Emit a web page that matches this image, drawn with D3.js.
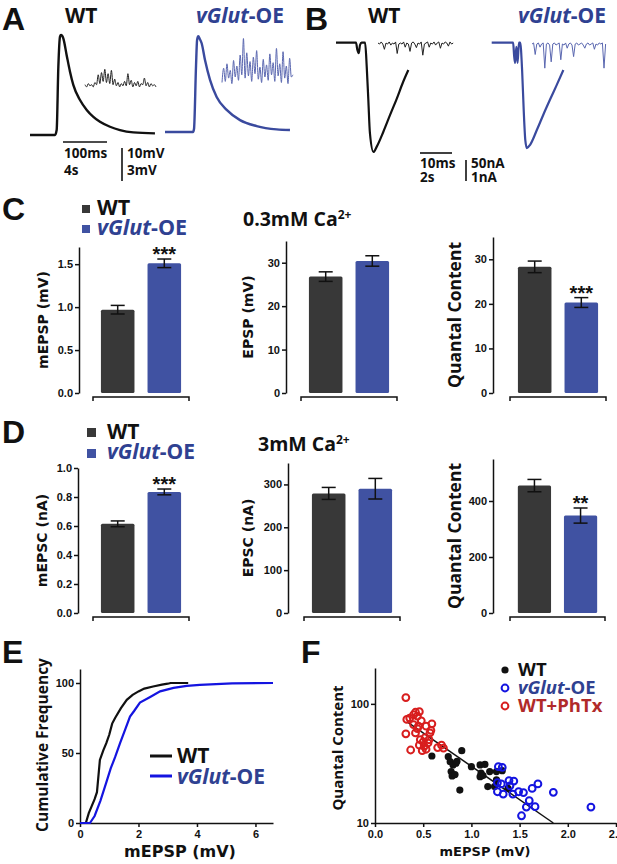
<!DOCTYPE html>
<html>
<head>
<meta charset="utf-8">
<script src="https://cdn.jsdelivr.net/npm/d3@7"></script>
<style>
  body { margin: 0; background: #fff; }
</style>
</head>
<body>
<script>
// groups and colours
const groups = ["WT", "vGlut-OE"];
const wtColor = "#383838", oeColor = "#4052a2", oeText = "#2f4191";

// panel A: evoked EPSP (ms, mV) and minis (one sample each 0.15 s, mV)
const wtEpsp = [[0,0],[56.8,0],[60.6,1.5],[64.4,20.6],[68.2,29.8],[70.5,30.3],[75.7,29.3],[83.3,24.2],[90.9,19.2],[98.4,15.2],[113.6,10.6],[128.9,7.6],[144,5.5],[159,4.0],[181.8,2.5],[204.5,1.5],[234.8,0.8],[284,0.5]];
const oeEpsp = [[0,0],[63.6,0],[66,1],[70.5,20],[73,28],[75.7,29],[79,28.2],[83.3,26.9],[90.9,21.8],[102.3,15.8],[117.4,10.6],[140.2,6.7],[170.5,3.6],[208.3,1.8],[253.8,0.8],[284,0.6]];
const wtMiniA = [0.3,0.1,0.4,0.2,0.3,0.1,0.5,0.3,1.2,0.4,1.4,0.6,1.7,0.5,1.3,0.4,1.6,0.3,0.8,0.2,0.5,0.1,0.4,0.2,0.6,0.2,1.3,0.3,0.7,0.1,0.5,0.2,0.6,0.1,0.4,0.3,0.9,0.2,0.5,0.1,0.4,0.2,0.3,0.1];
const oeMiniA = [0.5,1.8,0.6,2.2,0.9,1.6,0.4,2.5,1.0,2.0,0.7,3.0,1.2,4.5,0.9,3.2,1.1,2.4,0.6,2.8,1.3,3.4,0.8,1.9,0.5,2.6,1.0,2.1,0.7,3.1,1.2,2.3,0.6,3.6,1.1,2.2,0.5,3.3,0.9,2.0,0.4,2.7,1.0,1.2];

// panel B: evoked EPSC (ms, nA) and minis (one sample each 0.1 s, nA)
const wtEpsc = [[0,0],[6.25,0],[6.67,-17],[7.1,-25],[7.5,-5.5],[8.0,0],[9.1,0],[9.6,-57],[10.1,-136],[10.6,-215],[11.7,-260],[12.7,-248],[14.8,-212],[16.9,-172],[19,-133],[21,-93],[22.6,-65]];
const oeEpsc = [[0,0],[6.7,0],[7.0,-30],[7.3,-48],[7.7,-10],[8.1,-48],[8.5,0],[8.9,0],[9.5,-65],[10.0,-160],[10.5,-232],[11.0,-251],[12.0,-243],[14.1,-208],[16.1,-172],[18.2,-136],[20.3,-101],[22.4,-65]];
const wtMiniB = [0,-0.05,0.05,-0.05,-0.3,0,-0.05,0.05,-0.1,0,-0.05,0.05,-0.5,-0.05,0,-0.05,0.05,-0.2,0,-0.05,-0.4,0,0.05,-0.05,-0.22,0,-0.05,0.05,-0.58,-0.05,0,0.05,-0.2,0,-0.05,0.05,-0.1,0,0.05,-0.25,0,-0.05,0.05,0,-0.15,0.05,-0.05,0];
const oeMiniB = [0,0.05,-0.5,0,0.05,-0.15,0,0.05,-1.15,0,0.05,-0.05,-0.85,0,0.05,-0.05,0,0.05,-0.75,0,-0.05,0.05,-0.2,0,0.05,-0.05,-0.6,0,0.05,-0.05,0,0.05,-0.05,-0.2,0,0.05,-0.05,0,0.05,-0.25,0,-0.05,0.05,0,0.05,-1.15,0];

// panel C (0.3 mM Ca) and D (3 mM Ca): mean and SEM
const mepsp03Mean = [0.97, 1.51], mepsp03Sem = [0.05, 0.05];
const epsp03Mean = [26.8, 30.4], epsp03Sem = [1.1, 1.2];
const qc03Mean = [28.3, 20.3], qc03Sem = [1.3, 1.1];
const mepsc3Mean = [0.615, 0.835], mepsc3Sem = [0.02, 0.02];
const epsc3Mean = [279, 290], epsc3Sem = [14, 24];
const qc3Mean = [455, 348], qc3Sem = [22, 27];

// panel E: cumulative frequency of mEPSP
const wtCumX = [0,0.2,0.3,0.4,0.5,0.58,0.68,0.8,0.9,1.0,1.1,1.2,1.4,1.6,1.8,2.0,2.2,2.5,2.8,3.0,3.1,3.7];
const wtCumY = [0,0,7,12,17,22,45,52,57,63,71,75,82,88,91.5,94,96,97.5,98.8,99.5,100,100];
const oeCumX = [0,0.34,0.5,0.7,0.9,1.05,1.2,1.37,1.55,1.71,1.85,2.05,2.4,2.74,3.2,3.65,4.1,5.2,6.6];
const oeCumY = [0,0,5,16,29,39,47,57,67,76,80,86,90,94,96.5,98,98.6,99.8,100];

// panel F: mEPSP (mV) vs quantal content
const wtScatter = [[0.59,36.5],[0.76,36],[0.78,32.7],[0.81,30.7],[0.84,31.8],[0.79,27],[0.80,24.8],[0.85,33],[0.88,18.9],[0.90,40.5],[1.00,29.7],[1.09,30.7],[1.10,26.2],[1.09,24.5],[1.12,25],[1.14,31],[1.19,27],[1.17,20.2],[1.24,20.2],[1.26,27],[1.32,27.5],[1.38,19.5],[1.26,23],[0.83,25.5]];
const oeScatter = [[1.28,29.7],[1.32,29.3],[1.27,21.8],[1.31,21.3],[1.27,18.3],[1.39,22.7],[1.44,22.5],[1.40,20.5],[1.33,17.5],[1.43,17.5],[1.49,18.3],[1.54,18],[1.63,19.5],[1.69,21.3],[1.85,18.1],[1.60,15.4],[1.57,13.6],[1.66,13.7],[1.52,11.5],[2.24,13.6]];
const phtxScatter = [[0.32,113],[0.33,74],[0.32,56],[0.37,41],[0.40,81],[0.42,85],[0.46,86],[0.44,79],[0.40,67],[0.42,57],[0.45,65],[0.53,65],[0.59,68],[0.57,57],[0.47,50],[0.50,48],[0.46,45],[0.49,40.5],[0.53,41.6],[0.55,47],[0.69,45],[0.71,42.5],[0.65,43],[0.36,76],[0.48,72],[0.52,52],[0.56,50],[0.44,62],[0.51,44],[0.58,60]];
const fitX = [0.33, 1.85], fitY = [71, 10];

const LABEL = "'Open Sans', 'Liberation Sans', sans-serif";
const WIDE = "'DejaVu Sans', Verdana, sans-serif";
const TICK = "'Liberation Sans', Arial, sans-serif";

const svg = d3.select("body").append("svg")
    .attr("width", 617)
    .attr("height", 864)
    .style("display", "block");

function txt(x, y, s, size, opts = {}) {
    return svg.append("text")
        .attr("x", x).attr("y", y)
        .attr("font-family", opts.family || LABEL)
        .attr("font-size", size)
        .attr("font-weight", "bold")
        .attr("fill", opts.fill || "#111")
        .attr("text-anchor", opts.anchor || "start")
        .text(s);
}
// "vGlut-OE" with italic gene name
function oeLabel(x, y, size, fill) {
    const t = txt(x, y, "", size, { fill: fill || oeText });
    t.append("tspan").attr("font-style", "italic").text("vGlut");
    t.append("tspan").text("-OE");
    return t;
}
function panelLetter(x, y, s) { txt(x, y, s, 32, { family: TICK }); }
function yTitle(x, y, s, size, family) {
    svg.append("text")
        .attr("transform", `translate(${x},${y}) rotate(-90)`)
        .attr("text-anchor", "middle").attr("dy", "0.35em")
        .attr("font-family", family).attr("font-size", size).attr("font-weight", "bold")
        .attr("fill", "#111").text(s);
}

// ---------- panel A ----------
panelLetter(2, 30, "A");
txt(65, 23, "WT", 21);
oeLabel(196, 23, 21);

function trace(data, xs, ys, color, w) {
    svg.append("path").datum(data)
        .attr("fill", "none").attr("stroke", color).attr("stroke-width", w)
        .attr("stroke-linejoin", "round")
        .attr("d", d3.line().x(d => xs(d[0])).y(d => ys(d[1])).curve(d3.curveMonotoneX));
}
function sampled(vals, dt) { return vals.map((v, i) => [i * dt, v]); }

const axWt = d3.scaleLinear().domain([0, 100]).range([30, 74]);
const ayWt = d3.scaleLinear().domain([0, 10]).range([135, 102]);
const axOe = d3.scaleLinear().domain([0, 100]).range([165, 209]);
const ayOe = d3.scaleLinear().domain([0, 10]).range([132, 99]);
trace(wtEpsp, axWt, ayWt, "#111", 2.4);
trace(oeEpsp, axOe, ayOe, "#3a4a9e", 2.4);
const amxWt = d3.scaleLinear().domain([0, 4]).range([85, 129]);
const amxOe = d3.scaleLinear().domain([0, 4]).range([222, 266]);
const amy = d3.scaleLinear().domain([0, 3]).range([88, 55]);
trace(sampled(wtMiniA, 0.15), amxWt, amy, "#222", 1);
trace(sampled(oeMiniA, 0.15), amxOe, amy, "#5a67b0", 1);

// scale bars A
svg.append("line").attr("x1", 63).attr("x2", 63 + axWt(100) - axWt(0)).attr("y1", 142).attr("y2", 142)
    .attr("stroke", "#111").attr("stroke-width", 1.6);
svg.append("line").attr("x1", 122).attr("x2", 122).attr("y1", 148).attr("y2", 148 + ayWt(0) - ayWt(10))
    .attr("stroke", "#111").attr("stroke-width", 1.6);
txt(64, 158, "100ms", 13.5);
txt(64, 175, "4s", 13.5);
txt(127, 158, "10mV", 13.5);
txt(127, 175, "3mV", 13.5);

// ---------- panel B ----------
panelLetter(305, 30, "B");
txt(368, 23, "WT", 21);
oeLabel(518, 23, 21);

const bxWt = d3.scaleLinear().domain([0, 10]).range([336, 368]);
const bxOe = d3.scaleLinear().domain([0, 10]).range([491.7, 523.7]);
const by = d3.scaleLinear().domain([0, -50]).range([42.7, 63.7]);
trace(wtEpsc, bxWt, by, "#111", 2.2);
trace(oeEpsc, bxOe, by, "#3a4a9e", 2.2);
const bmxWt = d3.scaleLinear().domain([0, 2]).range([378, 410]);
const bmxOe = d3.scaleLinear().domain([0, 2]).range([532, 564]);
const bmyWt = d3.scaleLinear().domain([0, -1]).range([43, 64]);
const bmyOe = d3.scaleLinear().domain([0, -1]).range([44, 65]);
svg.append("path").datum(sampled(wtMiniB, 0.1))
    .attr("fill", "none").attr("stroke", "#222").attr("stroke-width", 1)
    .attr("d", d3.line().x(d => bmxWt(d[0])).y(d => bmyWt(d[1])));
svg.append("path").datum(sampled(oeMiniB, 0.1))
    .attr("fill", "none").attr("stroke", "#5a67b0").attr("stroke-width", 1)
    .attr("d", d3.line().x(d => bmxOe(d[0])).y(d => bmyOe(d[1])));

// scale bars B
svg.append("line").attr("x1", 420).attr("x2", 420 + bxWt(10) - bxWt(0)).attr("y1", 153).attr("y2", 153)
    .attr("stroke", "#111").attr("stroke-width", 1.6);
svg.append("line").attr("x1", 466).attr("x2", 466).attr("y1", 160).attr("y2", 160 + by(-50) - by(0))
    .attr("stroke", "#111").attr("stroke-width", 1.6);
txt(420, 168, "10ms", 13.5);
txt(420, 182, "2s", 13.5);
txt(471, 168, "50nA", 13.5);
txt(471, 182, "1nA", 13.5);

// ---------- bar panels ----------
function styleAxis(g) {
    g.select(".domain").attr("stroke", "#111").attr("stroke-width", 1.5);
    g.selectAll(".tick line").attr("stroke", "#111").attr("stroke-width", 1.5);
    g.selectAll(".tick text").attr("font-family", TICK).attr("font-size", 11)
        .attr("font-weight", "bold").attr("fill", "#111");
}

function barPanel(o) {
    const y = d3.scaleLinear().domain(o.domain).range([o.y0, o.yTop]);
    const x = d3.scaleBand().domain(groups).range([o.xStart, o.xEnd])
        .paddingInner(0.28).paddingOuter(0.17);
    const g = svg.append("g").attr("transform", `translate(${o.axisX},0)`)
        .call(d3.axisLeft(y).tickValues(o.ticks).tickFormat(o.fmt).tickSize(4).tickSizeOuter(0));
    styleAxis(g);
    g.selectAll(".tick text").attr("x", -6);

    const base = o.y0 + 4;
    svg.append("path")
        .attr("d", `M${o.xStart},${base + 4}V${base}H${o.xEnd}V${base + 4}`)
        .attr("fill", "none").attr("stroke", "#111").attr("stroke-width", 1.5);

    groups.forEach((k, i) => {
        const m = o.mean[i], s = o.sem[i], cx = x(k) + x.bandwidth() / 2;
        svg.append("rect")
            .attr("x", x(k)).attr("y", y(m))
            .attr("width", x.bandwidth()).attr("height", y(0) - y(m))
            .attr("rx", 1.5)
            .attr("fill", i ? oeColor : wtColor);
        const eb = svg.append("g").attr("stroke", "#111").attr("stroke-width", 1.5);
        eb.append("line").attr("x1", cx).attr("x2", cx).attr("y1", y(m - s)).attr("y2", y(m + s));
        [m - s, m + s].forEach(v => eb.append("line")
            .attr("x1", cx - 7).attr("x2", cx + 7).attr("y1", y(v)).attr("y2", y(v)));
        if (i === 1 && o.star) {
            txt(cx, y(m + s) + 2, o.star, 20, { family: TICK, anchor: "middle" });
        }
    });

    yTitle(o.labelX, (o.y0 + o.yTop) / 2, o.label, o.labelSize, o.labelFont);
}

// ---------- panel C ----------
panelLetter(2, 220, "C");
svg.append("rect").attr("x", 82).attr("y", 205).attr("width", 8).attr("height", 8).attr("fill", wtColor);
txt(97, 215, "WT", 21.5);
svg.append("rect").attr("x", 82).attr("y", 225).attr("width", 8).attr("height", 8).attr("fill", oeColor);
oeLabel(97, 235, 21.5);
const tC = txt(243, 226, "0.3mM Ca", 19.5);
tC.append("tspan").attr("font-size", 12).attr("dy", -7).text("2+");

barPanel({ axisX: 79, y0: 393, yTop: 247, domain: [0, 1.7], ticks: [0, 0.5, 1.0, 1.5], fmt: d3.format(".1f"),
    xStart: 93, xEnd: 189, mean: mepsp03Mean, sem: mepsp03Sem, star: "***",
    label: "mEPSP (mV)", labelX: 43, labelSize: 14, labelFont: WIDE });
barPanel({ axisX: 286, y0: 393, yTop: 241, domain: [0, 35], ticks: [0, 10, 20, 30], fmt: d3.format("d"),
    xStart: 301, xEnd: 397, mean: epsp03Mean, sem: epsp03Sem,
    label: "EPSP (mV)", labelX: 248, labelSize: 14, labelFont: WIDE });
barPanel({ axisX: 493, y0: 393, yTop: 237, domain: [0, 35], ticks: [0, 10, 20, 30], fmt: d3.format("d"),
    xStart: 510, xEnd: 606, mean: qc03Mean, sem: qc03Sem, star: "***",
    label: "Quantal Content", labelX: 455, labelSize: 17.5, labelFont: LABEL });

// ---------- panel D ----------
panelLetter(2, 443, "D");
svg.append("rect").attr("x", 87).attr("y", 428).attr("width", 9).attr("height", 9).attr("fill", wtColor);
txt(107, 439, "WT", 21);
svg.append("rect").attr("x", 87).attr("y", 449).attr("width", 9).attr("height", 9).attr("fill", oeColor);
oeLabel(107, 459, 21);
const tD = txt(258, 451, "3mM Ca", 19.5);
tD.append("tspan").attr("font-size", 12).attr("dy", -7).text("2+");

barPanel({ axisX: 78, y0: 613, yTop: 468, domain: [0, 1.0], ticks: [0, 0.2, 0.4, 0.6, 0.8, 1.0], fmt: d3.format(".1f"),
    xStart: 93, xEnd: 189, mean: mepsc3Mean, sem: mepsc3Sem, star: "***",
    label: "mEPSC (nA)", labelX: 42, labelSize: 14, labelFont: WIDE });
barPanel({ axisX: 288, y0: 613, yTop: 463, domain: [0, 350], ticks: [0, 100, 200, 300], fmt: d3.format("d"),
    xStart: 304, xEnd: 400, mean: epsc3Mean, sem: epsc3Sem,
    label: "EPSC (nA)", labelX: 248, labelSize: 14, labelFont: WIDE });
barPanel({ axisX: 493, y0: 613, yTop: 459, domain: [0, 550], ticks: [0, 200, 400], fmt: d3.format("d"),
    xStart: 510, xEnd: 605, mean: qc3Mean, sem: qc3Sem, star: "**",
    label: "Quantal Content", labelX: 455, labelSize: 17.5, labelFont: LABEL });

// ---------- panel E ----------
panelLetter(2, 663, "E");
const ex = d3.scaleLinear().domain([0, 6.6]).range([80, 273]);
const ey = d3.scaleLinear().domain([0, 110]).range([823, 669]);
const exg = svg.append("g").attr("transform", "translate(0,823)")
    .call(d3.axisBottom(ex).tickValues([0, 2, 4, 6]).tickFormat(d3.format("d")).tickSize(4).tickSizeOuter(0));
styleAxis(exg);
const eyg = svg.append("g").attr("transform", "translate(80,0)")
    .call(d3.axisLeft(ey).tickValues([0, 50, 100]).tickFormat(d3.format("d")).tickSize(4).tickSizeOuter(0));
styleAxis(eyg);
eyg.selectAll(".tick text").attr("x", -6);

const cumLine = d3.line().x(d => ex(d[0])).y(d => ey(d[1]));
svg.append("path").datum(wtCumX.map((v, i) => [v, wtCumY[i]]))
    .attr("fill", "none").attr("stroke", "#111").attr("stroke-width", 2.2).attr("d", cumLine);
svg.append("path").datum(oeCumX.map((v, i) => [v, oeCumY[i]]))
    .attr("fill", "none").attr("stroke", "#1414e0").attr("stroke-width", 2.2).attr("d", cumLine);

svg.append("line").attr("x1", 150).attr("x2", 172).attr("y1", 756).attr("y2", 756)
    .attr("stroke", "#111").attr("stroke-width", 3);
txt(177, 763, "WT", 21);
svg.append("line").attr("x1", 150).attr("x2", 172).attr("y1", 776).attr("y2", 776)
    .attr("stroke", "#1414e0").attr("stroke-width", 3);
oeLabel(177, 784, 21);

yTitle(43, 745, "Cumulative Frequency", 15.5, LABEL);
txt(180, 857, "mEPSP (mV)", 16, { anchor: "middle", family: WIDE });

// ---------- panel F ----------
panelLetter(301, 663, "F");
const fx = d3.scaleLinear().domain([0, 2.5]).range([375, 616]);
const fy = d3.scaleLog().domain([10, 200]).range([823, 668]);
const fxg = svg.append("g").attr("transform", "translate(0,823)")
    .call(d3.axisBottom(fx).tickValues([0, 0.5, 1.0, 1.5, 2.0, 2.5]).tickFormat(d3.format(".1f")).tickSize(4).tickSizeOuter(0));
styleAxis(fxg);
const fyg = svg.append("g").attr("transform", "translate(375,0)")
    .call(d3.axisLeft(fy).tickValues([10, 100]).tickFormat(d3.format("d")).tickSize(4).tickSizeOuter(0));
styleAxis(fyg);
fyg.selectAll(".tick text").attr("x", -6);

svg.append("path").datum(fitX.map((v, i) => [v, fitY[i]]))
    .attr("fill", "none").attr("stroke", "#111").attr("stroke-width", 1.5)
    .attr("d", d3.line().x(d => fx(d[0])).y(d => fy(d[1])));

svg.append("g").selectAll("circle").data(phtxScatter).join("circle")
    .attr("cx", d => fx(d[0])).attr("cy", d => fy(d[1])).attr("r", 3.4)
    .attr("fill", "none").attr("stroke", "#d81e1e").attr("stroke-width", 2);
svg.append("g").selectAll("circle").data(wtScatter).join("circle")
    .attr("cx", d => fx(d[0])).attr("cy", d => fy(d[1])).attr("r", 3.6)
    .attr("fill", "#111");
svg.append("g").selectAll("circle").data(oeScatter).join("circle")
    .attr("cx", d => fx(d[0])).attr("cy", d => fy(d[1])).attr("r", 3.4)
    .attr("fill", "none").attr("stroke", "#1414e0").attr("stroke-width", 2);

svg.append("circle").attr("cx", 505).attr("cy", 670).attr("r", 3.6).attr("fill", "#111");
txt(518, 676, "WT", 18.5);
svg.append("circle").attr("cx", 505).attr("cy", 688).attr("r", 3.4)
    .attr("fill", "none").attr("stroke", "#1414e0").attr("stroke-width", 2);
oeLabel(518, 694, 18.5);
svg.append("circle").attr("cx", 505).attr("cy", 706).attr("r", 3.4)
    .attr("fill", "none").attr("stroke", "#d81e1e").attr("stroke-width", 2);
txt(518, 712, "WT+PhTx", 18.5, { fill: "#b02a2a" });

yTitle(338, 748, "Quantal Content", 15, LABEL);
txt(485, 856, "mEPSP (mV)", 13, { anchor: "middle", family: WIDE });
</script>
</body>
</html>
